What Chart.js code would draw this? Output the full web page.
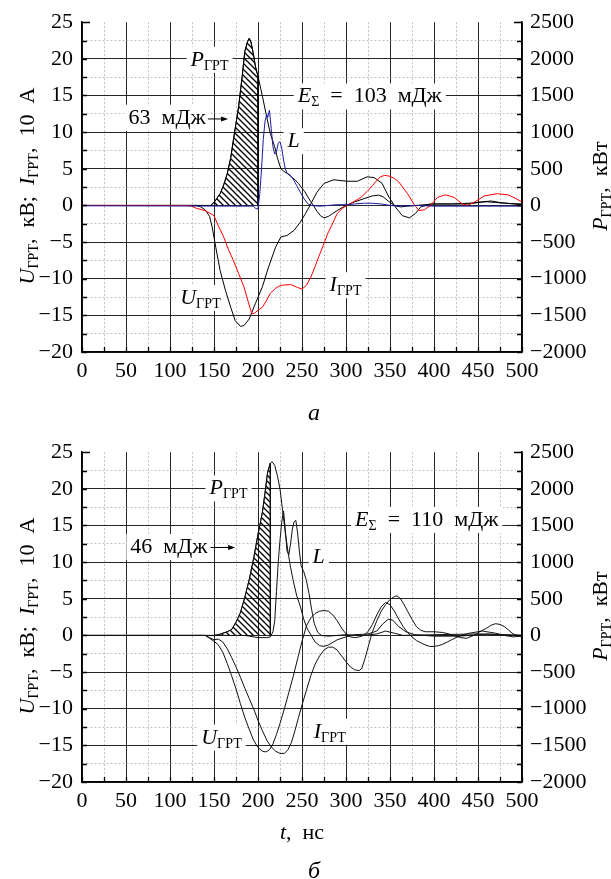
<!DOCTYPE html>
<html><head><meta charset="utf-8">
<script src="https://cdn.jsdelivr.net/npm/chart.js@4.4.0/dist/chart.umd.min.js"></script>
<style>
html,body{margin:0;padding:0;background:#fff;}
#wrap{position:relative;width:611px;height:879px;overflow:hidden;background:#fff;}
#ca{position:absolute;left:0;top:0;}
#cb{position:absolute;left:0;top:430px;}
</style></head><body>
<div id="wrap"><canvas id="ca" width="611" height="430"></canvas><canvas id="cb" width="611" height="449"></canvas></div>
<script>
// ---------- Chart (а) data ----------
const tUa = [0,130,135,140,145,148,152,157,163,169,174,180,184,190,197,205,212,220,226,233,241,248,254,260,267,275,286,301,313,324,332,341,349,356,364,372,379,385,396,420,440,450,460,470,480,500];
const Ua  = [0,0,-0.2,-0.6,-1.5,-3.0,-5.7,-8.9,-11.6,-13.9,-15.7,-16.5,-16.4,-15.5,-13.4,-11.1,-8.4,-5.7,-4.3,-4.1,-3.4,-2.3,-1.1,0.2,1.8,3.0,3.5,3.3,3.3,3.9,3.8,3.0,1.1,-0.2,-1.4,-1.7,-1.1,-0.2,0.2,0.2,0.2,0.4,0.5,0.4,0.3,0.2];
const tIa = [0,120,125,130,140,150,155,161,166,172,178,184,189,193,196,200,205,210,214,220,226,237,245,250,255,260,265,269,274,279,285,290,296,301,310,317,324,330,335,339,344,349,355,360,365,370,377,383,389,396,404,413,423,432,438,446,457,472,484,492,500];
const Ia  = [0,0,-0.1,-0.4,-0.7,-1.4,-2.8,-4.3,-5.9,-7.5,-9.3,-11.1,-13.2,-14.8,-14.7,-14.3,-13.9,-12.9,-12.0,-11.3,-10.9,-10.8,-11.2,-11.4,-10.9,-9.8,-8.3,-7.0,-5.5,-3.9,-2.4,-1.1,-0.4,0,0.6,1.1,1.9,2.7,3.4,3.9,4.1,4.0,3.7,3.2,2.4,1.6,0.2,-0.7,-0.6,0,1.1,1.45,1.1,0.2,0,0.45,1.3,1.6,1.45,1.0,0.45];
const tPa = [0,140,146,150,157,161,165,169,172,175,178,182,185,188,190,192,195,197,200,203,205,209,214,219,222,226,230,234,238,242,246,249,253,257,260,263,267,271,275,280,285,290,300,310,320,330,337,342,348,355,362,370,380,400,420,440,455,465,475,490,500];
const Pa  = [0,0,0,40,160,280,430,650,890,1120,1350,1760,2100,2230,2280,2230,2050,1900,1760,1600,1490,1260,980,800,650,500,460,430,390,350,300,250,190,110,50,0,-80,-140,-170,-150,-110,-70,0,50,90,130,140,120,60,0,-20,-10,0,20,20,30,50,60,40,20,10];
const tLa = [0,190,195,197,199,200,202,204,206,208,210,211,213,215,217,219,221,223,225,227,229,231,233,236,240,244,248,252,256,260,270,280,290,300,310,320,330,340,350,360,380,400,430,460,500];
const La  = [-0.05,-0.1,-0.1,-0.4,-0.5,-0.3,1.5,5,9,11.5,12.4,12.0,13.0,10.5,8.0,7.0,7.3,8.5,8.7,7.8,6.2,5.0,4.4,4.2,3.6,2.7,1.8,1.0,0.3,0,-0.1,0,0.1,0.1,0.2,0.3,0.3,0.2,0,-0.1,0,-0.1,-0.1,-0.1,-0.1];
const hatchA = [146, 200];

// ---------- Chart (б) data ----------
const tUb = [0,140,145,150,155,160,165,170,175,180,185,190,195,200,205,209,213,217,221,225,230,235,240,245,250,255,260,265,270,275,280,285,290,295,300,305,310,315,320,325,330,335,340,345,350,355,360,365,370,375,380,385,390,395,400,405,410,415,420,425,430,440,450,455,460,470,480,490,500];
const Ub  = [0,0,-0.4,-0.8,-1.3,-2.3,-3.8,-5.5,-7.3,-9.3,-11.2,-12.8,-14.3,-15.3,-15.8,-15.9,-15.6,-14.8,-13.5,-12.0,-10.0,-7.8,-5.6,-3.2,-0.8,1.3,2.4,3.0,3.3,3.4,3.3,2.8,2.0,1.0,0.2,-0.2,-0.3,-0.2,0,0.5,1.5,2.8,3.9,4.5,4.2,3.3,2.2,1.2,0.4,-0.2,-0.7,-1.0,-1.3,-1.5,-1.5,-1.4,-1.2,-0.9,-0.6,-0.3,0,0.3,0.5,0.6,0.5,0.3,0,-0.2,-0.1];
const tIb = [0,140,145,150,155,160,165,170,175,180,185,190,195,200,205,210,215,220,225,230,234,238,242,246,250,255,260,265,270,275,280,285,290,295,300,305,310,315,318,322,326,330,335,340,345,350,355,358,362,366,370,375,380,385,390,400,410,420,430,437,445,452,460,465,470,475,480,485,490,495,500];
const Ib  = [0,0,-0.3,-0.6,-0.5,-0.9,-1.8,-3.0,-4.3,-5.7,-7.2,-8.6,-10.0,-11.6,-13.0,-14.3,-15.2,-15.8,-16.1,-16.1,-15.6,-14.6,-13.0,-11.2,-9.5,-7.5,-5.5,-3.9,-2.8,-2.0,-1.6,-1.6,-2.0,-2.8,-3.6,-4.3,-4.7,-4.8,-4.5,-3.0,-1.2,0.5,2.0,3.3,4.2,4.9,5.3,5.4,5.0,4.2,3.3,2.2,1.2,0.7,0.5,0.5,0.4,0.1,-0.3,-0.4,0,0.5,1.0,1.4,1.6,1.5,1.2,0.7,0.2,0,-0.1];
const tPb = [0,150,155,160,165,170,175,180,185,190,195,200,205,208,211,214,216,219,222,225,228,231,234,237,240,244,248,252,256,260,265,270,275,280,290,300,310,325,335,342,348,353,360,368,378,400,430,460,480,500];
const Pb  = [0,0,10,30,50,80,180,310,520,760,1050,1380,1680,1950,2230,2350,2370,2320,2180,2000,1700,1400,1150,930,750,540,400,220,90,10,-90,-140,-150,-130,-60,-20,10,20,60,160,220,210,120,50,10,-10,-10,20,10,0];
const tLb = [0,185,190,200,210,214,217,219,221,223,225,227,229,231,233,235,237,239,241,243,245,247,249,252,255,258,261,264,268,272,280,300,320,335,345,355,365,400,450,500];
const Lb  = [0,0,-0.1,-0.3,-0.3,-0.2,0.5,2,6,10,13,15.5,17.0,14.5,11.5,11.0,12.5,14.5,15.5,15.7,14,11.5,9.5,8.7,7.5,5.7,3.5,1.6,0.4,0,-0.1,0.1,0,0.2,0.6,0.3,0,0.1,0.2,0];
const hatchB = [150, 214];

// ---------- axis ticks ----------
const xMin = 0, xMax = 500, xStep = 25, xLabelEvery = 50;
const yMin = -20, yMax = 25, yStep = 2.5, yLabelEvery = 5;
const y2Min = -2000, y2Max = 2500, y2Step = 250, y2LabelEvery = 500;

const SERIF = "'Liberation Serif','Times New Roman',serif";
function F(size, it){ return (it ? 'italic ' : '') + size + 'px ' + SERIF; }
function minus(v){ return v < 0 ? '\u2212' + Math.abs(v) : String(v); }
function isMult(v, m){ const r = Math.abs(v / m - Math.round(v / m)); return r < 1e-6; }
function pts(ts, vs){ return ts.map((t, i) => ({x: t, y: vs[i]})); }
function hatchPts(ts, vs, rng){
  const out = [];
  ts.forEach((t, i) => { if (t >= rng[0] && t <= rng[1]) out.push({x: t, y: vs[i]}); });
  out.push({x: rng[1], y: 0});
  return out;
}
function hatchPattern(){
  const c = document.createElement('canvas'); c.width = 6; c.height = 6;
  const g = c.getContext('2d');
  g.strokeStyle = '#000'; g.lineWidth = 1.3;
  g.beginPath();
  g.moveTo(0, 0); g.lineTo(6, 6);
  g.moveTo(-1, 5); g.lineTo(1, 7);
  g.moveTo(5, -1); g.lineTo(7, 1);
  g.stroke();
  return g.createPattern(c, 'repeat');
}
function richWidth(ctx, parts){ let w = 0; for (const p of parts){ ctx.font = p.font; w += ctx.measureText(p.text).width; } return w; }
function drawRich(ctx, parts, x, y){
  let cx = x;
  for (const p of parts){ ctx.font = p.font; ctx.fillText(p.text, cx, y + (p.dy || 0)); cx += ctx.measureText(p.text).width; }
}
const SUB = F(14, false);
const it = s => ({text: s, font: F(22, true)});
const rm = s => ({text: s, font: F(22, false)});
const sub = s => ({text: s, font: SUB, dy: 4});

function makePlugin(spec){
  return {
    id: 'annos_' + spec.id,
    beforeDatasetsDraw(chart){
      const ctx = chart.ctx, xs = chart.scales.x, ys = chart.scales.y;
      ctx.save();
      ctx.textBaseline = 'alphabetic';
      for (const a of spec.labels){
        const w = richWidth(ctx, a.parts);
        const px = xs.getPixelForValue(a.t), py = ys.getPixelForValue(a.v);
        const x0 = a.align === 'right' ? px - w : px - w / 2;
        ctx.fillStyle = '#fff';
        ctx.fillRect(x0 - 4, py - 12, w + 8, 26);
        ctx.fillStyle = '#000';
        drawRich(ctx, a.parts, x0, py + 7);
      }
      for (const ar of spec.arrows){
        const x1 = xs.getPixelForValue(ar.t1), x2 = xs.getPixelForValue(ar.t2), y = ys.getPixelForValue(ar.v);
        ctx.strokeStyle = '#000'; ctx.lineWidth = 1;
        ctx.beginPath(); ctx.moveTo(x1, y); ctx.lineTo(x2 - 5, y); ctx.stroke();
        ctx.fillStyle = '#000';
        ctx.beginPath(); ctx.moveTo(x2, y); ctx.lineTo(x2 - 7, y - 2.5); ctx.lineTo(x2 - 7, y + 2.5); ctx.closePath(); ctx.fill();
      }
      ctx.restore();
    },
    afterDraw(chart){
      const ctx = chart.ctx, a = chart.chartArea, xs = chart.scales.x, ys = chart.scales.y;
      ctx.save();
      ctx.strokeStyle = '#000'; ctx.lineWidth = 1.3;
      ctx.beginPath();
      for (let t = xMin; t <= xMax; t += xStep){
        const x = Math.round(xs.getPixelForValue(t)) + 0.5;
        ctx.moveTo(x, a.bottom); ctx.lineTo(x, a.bottom - 5);
      }
      for (let v = yMin; v <= yMax; v += yStep){
        const y = Math.round(ys.getPixelForValue(v)) + 0.5;
        const len = (v === yMax) ? 8 : 5;
        ctx.moveTo(a.left, y); ctx.lineTo(a.left + len, y);
        ctx.moveTo(a.right, y); ctx.lineTo(a.right - len, y);
      }
      ctx.stroke();
      // axis titles
      ctx.fillStyle = '#000';
      ctx.textBaseline = 'alphabetic';
      const lt = [it('U'), sub('ГРТ'), rm(',  кВ;  '), it('I'), sub('ГРТ'), rm(',  10  А')];
      const rt = [it('P'), sub('ГРТ'), rm(',  кВт')];
      const cy = (a.top + a.bottom) / 2 - 1;
      ctx.save(); ctx.translate(34, cy); ctx.rotate(-Math.PI / 2);
      drawRich(ctx, lt, -richWidth(ctx, lt) / 2, 0); ctx.restore();
      ctx.save(); ctx.translate(607, cy); ctx.rotate(-Math.PI / 2);
      drawRich(ctx, rt, -richWidth(ctx, rt) / 2, 0); ctx.restore();
      for (const c of spec.captions){
        const w = richWidth(ctx, c.parts);
        drawRich(ctx, c.parts, c.x - w / 2, c.y);
      }
      ctx.restore();
    }
  };
}

function gridColor(major, skip){
  return c => {
    if (!c.tick) return '#000';
    const v = c.tick.value;
    if (skip(v)) return 'rgba(0,0,0,0)';
    return major(v) ? '#262626' : '#c2c2c2';
  };
}
function gridDash(major){
  return c => (c.tick && !major(c.tick.value)) ? [2, 2] : [];
}
const tickFont = {family: SERIF, size: 22};

function makeChart(id, H, datasets, spec){
  const xMajor = v => isMult(v, xLabelEvery);
  const yMajor = v => isMult(v, yLabelEvery);
  return new Chart(document.getElementById(id), {
    type: 'line',
    data: {datasets},
    options: {
      responsive: false, animation: false, devicePixelRatio: 1,
      layout: {padding: {top: 22, left: 0, right: 0, bottom: 0}},
      plugins: {legend: {display: false}, tooltip: {enabled: false}},
      elements: {point: {radius: 0}, line: {tension: 0, borderWidth: 1}},
      scales: {
        x: {
          type: 'linear', min: xMin, max: xMax,
          afterFit: s => { s.height = H - 352; },
          ticks: {stepSize: xStep, autoSkip: false, maxRotation: 0, minRotation: 0, padding: 6, color: '#000', font: tickFont,
                  callback: v => xMajor(v) ? String(v) : ''},
          grid: {color: gridColor(xMajor, v => false), lineWidth: 1, drawTicks: false},
          border: {color: '#000', width: 1.5, dash: gridDash(xMajor)}
        },
        y: {
          type: 'linear', position: 'left', min: yMin, max: yMax,
          afterFit: s => { s.width = 82; },
          ticks: {stepSize: yStep, autoSkip: false, padding: 9, color: '#000', font: tickFont,
                  callback: v => yMajor(v) ? minus(v) : ''},
          grid: {color: gridColor(yMajor, v => Math.abs(v - yMax) < 1e-6), lineWidth: 1, drawTicks: false},
          border: {color: '#000', width: 1.5, dash: gridDash(yMajor)}
        },
        y2: {
          type: 'linear', position: 'right', min: y2Min, max: y2Max,
          afterFit: s => { s.width = 89; },
          ticks: {stepSize: y2Step, autoSkip: false, padding: 8, color: '#000', font: tickFont,
                  callback: v => isMult(v, y2LabelEvery) ? minus(v) : ''},
          grid: {drawOnChartArea: false, drawTicks: false},
          border: {color: '#000', width: 1.5}
        }
      }
    },
    plugins: [makePlugin(spec)]
  });
}

const pat = hatchPattern();

makeChart('ca', 430, [
  {data: pts(tLa, La), borderColor: '#1c1c9e', yAxisID: 'y', borderWidth: 1},
  {data: pts(tIa, Ia), borderColor: '#ff0000', yAxisID: 'y', borderWidth: 1},
  {data: pts(tUa, Ua), borderColor: '#000', yAxisID: 'y', borderWidth: 1},
  {data: pts(tPa, Pa), borderColor: '#000', yAxisID: 'y2', borderWidth: 1},
  {data: hatchPts(tPa, Pa, hatchA), borderColor: '#000', backgroundColor: pat, fill: 'origin', yAxisID: 'y2', borderWidth: 1}
], {
  id: 'a',
  labels: [
    {t: 145, v: 20, parts: [it('P'), sub('ГРТ')]},
    {t: 327, v: 15, parts: [it('E'), sub('Σ'), rm('  =  103  мДж')]},
    {t: 140.5, v: 12.1, parts: [rm('63  мДж')], align: 'right'},
    {t: 240.5, v: 8.9, parts: [it('L')]},
    {t: 134.6, v: -12.5, parts: [it('U'), sub('ГРТ')]},
    {t: 299.5, v: -10.75, parts: [it('I'), sub('ГРТ')]}
  ],
  arrows: [{t1: 143, t2: 166, v: 11.8}],
  captions: [{x: 314, y: 420, parts: [{text: 'а', font: F(24, true)}]}]
});

makeChart('cb', 449, [
  {data: pts(tLb, Lb), borderColor: '#111', yAxisID: 'y', borderWidth: 1},
  {data: pts(tIb, Ib), borderColor: '#111', yAxisID: 'y', borderWidth: 1},
  {data: pts(tUb, Ub), borderColor: '#111', yAxisID: 'y', borderWidth: 1},
  {data: pts(tPb, Pb), borderColor: '#111', yAxisID: 'y2', borderWidth: 1},
  {data: hatchPts(tPb, Pb, hatchB), borderColor: '#111', backgroundColor: pat, fill: 'origin', yAxisID: 'y2', borderWidth: 1}
], {
  id: 'b',
  labels: [
    {t: 166.5, v: 20.2, parts: [it('P'), sub('ГРТ')]},
    {t: 391.7, v: 15.9, parts: [it('E'), sub('Σ'), rm('  =  110  мДж')]},
    {t: 142.6, v: 12.2, parts: [rm('46  мДж')], align: 'right'},
    {t: 269, v: 10.8, parts: [it('L')]},
    {t: 158.5, v: -13.8, parts: [it('U'), sub('ГРТ')]},
    {t: 281.5, v: -13.0, parts: [it('I'), sub('ГРТ')]}
  ],
  arrows: [{t1: 146, t2: 174, v: 12.0}],
  captions: [
    {x: 302, y: 409, parts: [it('t'), rm(',  нс')]},
    {x: 314, y: 448, parts: [{text: 'б', font: F(24, true)}]}
  ]
});
</script>
</body></html>
